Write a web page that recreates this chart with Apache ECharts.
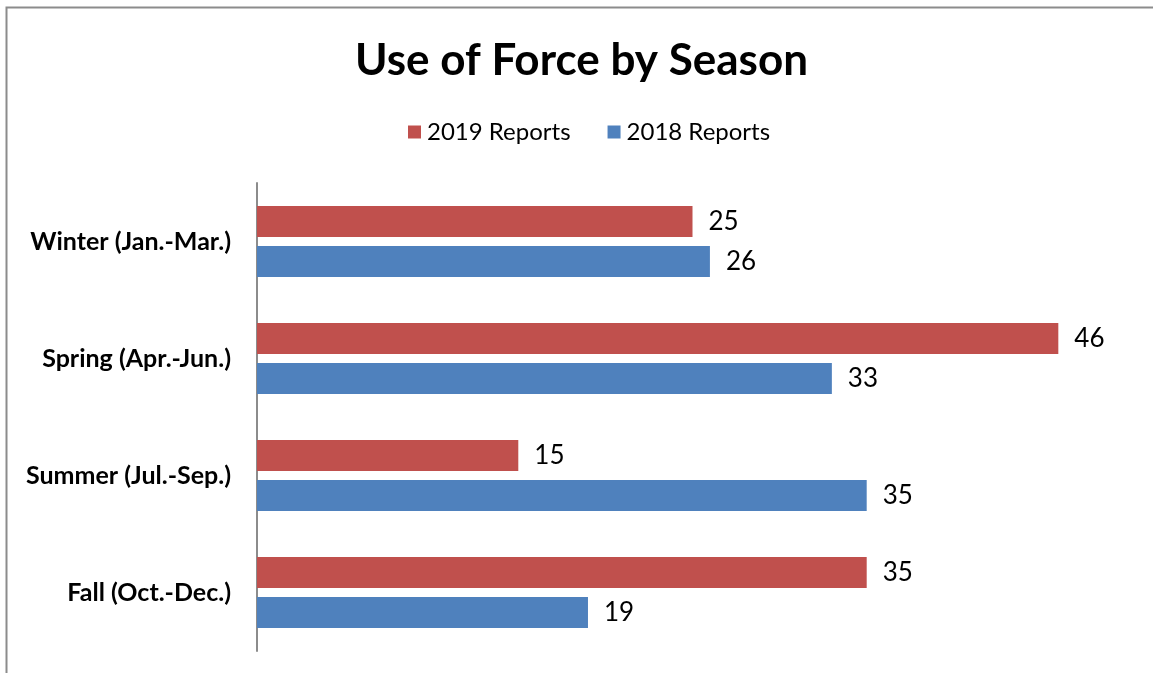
<!DOCTYPE html>
<html>
<head>
<meta charset="utf-8">
<script src="https://cdn.jsdelivr.net/npm/echarts@6/dist/echarts.min.js"></script>
<style>
html, body { margin: 0; padding: 0; background: #fff; }
#main { width: 1153px; height: 673px; }
</style>
</head>
<body>
<div id="main"></div>
<script>
var seasons = ['Winter (Jan.-Mar.)', 'Spring (Apr.-Jun.)', 'Summer (Jul.-Sep.)', 'Fall (Oct.-Dec.)'];
var reports2019 = [25, 46, 15, 35];
var reports2018 = [26, 33, 35, 19];

var font = 'Lato';
var myChart = echarts.init(document.getElementById('main'));

var option = {
    backgroundColor: '#fff',
    animation: false,
    // 外框
    graphic: [{
        type: 'rect',
        shape: { x: 6.5, y: 7.5, width: 1300, height: 800 },
        style: { fill: 'none', stroke: '#8c8c8c', lineWidth: 2 },
        silent: true
    }],
    title: {
        text: 'Use of Force by Season',
        left: 350,
        top: 34,
        textStyle: { fontFamily: font, fontSize: 44, fontWeight: 'bold', color: '#000' }
    },
    legend: {
        top: 115,
        left: 403,
        itemWidth: 13,
        itemHeight: 13,
        itemGap: 37,
        icon: 'rect',
        textStyle: { fontFamily: font, fontSize: 24, color: '#000', padding: [0, 0, 0, 1] },
        data: ['2019 Reports', '2018 Reports']
    },
    grid: {
        left: 257,
        top: 183,
        width: 871,
        height: 468,
        containLabel: false
    },
    xAxis: {
        type: 'value',
        min: 0,
        max: 50,
        show: false
    },
    yAxis: {
        type: 'category',
        inverse: true,
        data: seasons,
        axisLine: { lineStyle: { color: '#8c8c8c', width: 2 } },
        axisTick: { show: false },
        axisLabel: {
            fontFamily: font,
            fontSize: 25,
            fontWeight: 'bold',
            color: '#000',
            margin: 26
        }
    },
    series: [
        {
            name: '2019 Reports',
            type: 'bar',
            data: reports2019,
            barWidth: 31,
            barGap: '29%',
            itemStyle: { color: '#c0504d' },
            label: {
                show: true, position: 'right', distance: 16,
                fontFamily: font, fontSize: 26, color: '#000'
            }
        },
        {
            name: '2018 Reports',
            type: 'bar',
            data: reports2018,
            barWidth: 31,
            barGap: '29%',
            itemStyle: { color: '#4f81bd' },
            label: {
                show: true, position: 'right', distance: 16,
                fontFamily: font, fontSize: 26, color: '#000'
            }
        }
    ]
};

myChart.setOption(option);
</script>
</body>
</html>
